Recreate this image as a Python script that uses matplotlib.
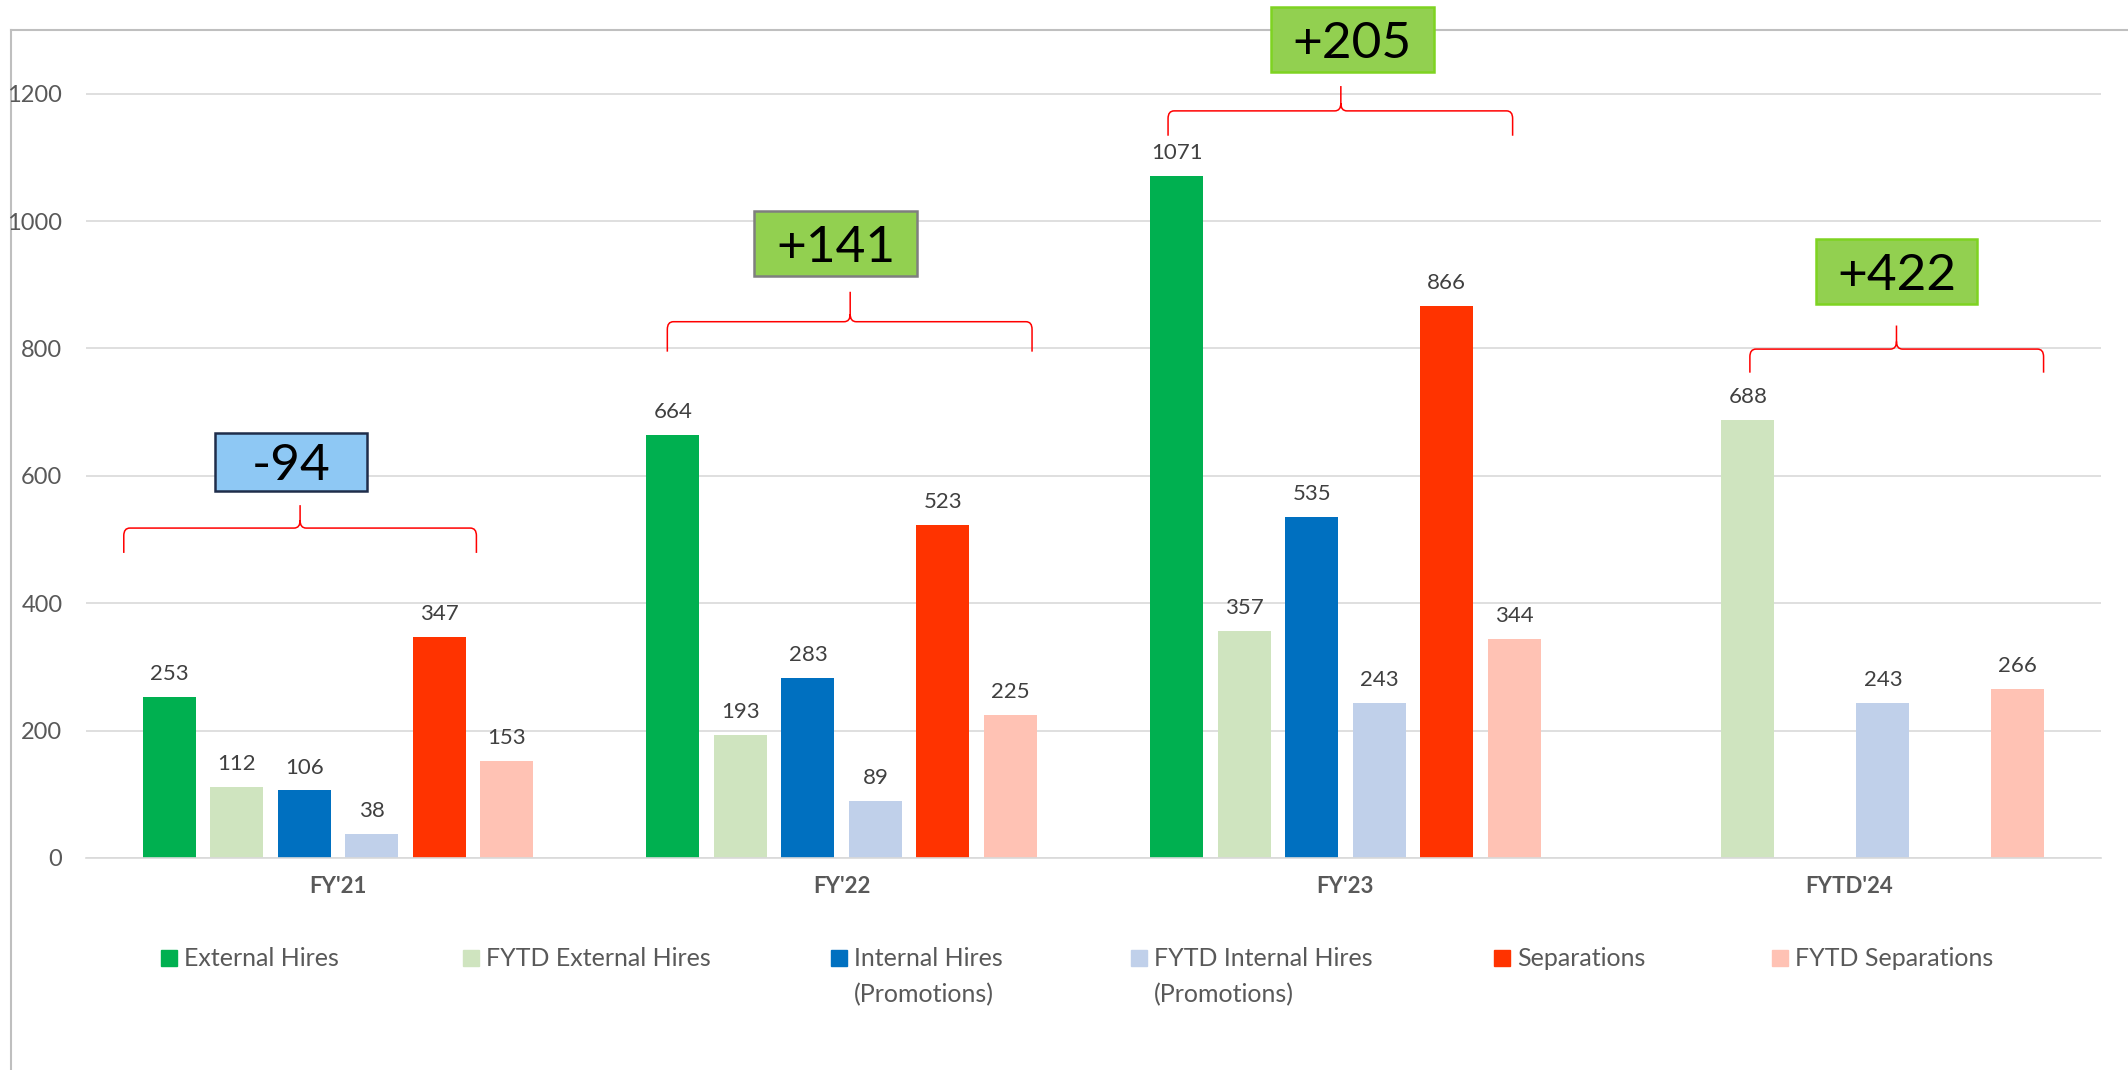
import numpy as np
import matplotlib.pyplot as plt
from matplotlib.patches import Rectangle, PathPatch
from matplotlib.path import Path
from matplotlib.lines import Line2D

plt.rcParams['font.family'] = ['Liberation Sans Narrow', 'Lato', 'DejaVu Sans']

# data
categories = ["FY'21", "FY'22", "FY'23", "FYTD'24"]
series_names = ['External Hires', 'FYTD External Hires', 'Internal Hires\n(Promotions)',
                'FYTD Internal Hires\n(Promotions)', 'Separations', 'FYTD Separations']
external_hires = [253, 664, 1071, None]
fytd_external_hires = [112, 193, 357, 688]
internal_hires = [106, 283, 535, None]
fytd_internal_hires = [38, 89, 243, 243]
separations = [347, 523, 866, None]
fytd_separations = [153, 225, 344, 266]
net_change = ['-94', '+141', '+205', '+422']

series = [external_hires, fytd_external_hires, internal_hires,
          fytd_internal_hires, separations, fytd_separations]
colors = ['#00B050', '#CFE4BF', '#0070C0', '#C0D0EA', '#FF3300', '#FFC2B4']

W, H = 2128, 1070
fig = plt.figure(figsize=(W / 100, H / 100), dpi=100)
ax = fig.add_axes([86 / W, 1 - 858 / H, (2101 - 86) / W, (858 - 30) / H])

pitch = 67.5 / 504
width = 53 / 504
x = np.arange(len(categories))

for i, (vals, col) in enumerate(zip(series, colors)):
    idx = [j for j, v in enumerate(vals) if v is not None]
    hs = [vals[j] for j in idx]
    bars = ax.bar(x[idx] + (i - 2.5) * pitch, hs, width, color=col, zorder=2)
    for b, h in zip(bars, hs):
        ax.annotate(str(h), (b.get_x() + b.get_width() / 2, h), xytext=(0, 12.2),
                    textcoords='offset points', ha='center', va='baseline',
                    fontsize=16, color='#404040')

ax.set_xlim(-0.5, 3.5)
ax.set_ylim(0, 1300)
ax.set_yticks(np.arange(0, 1201, 200))
ax.yaxis.grid(True, color='#D9D9D9', lw=1.2, zorder=0)
ax.set_axisbelow(True)
ax.patch.set_alpha(0)
for s in ['top', 'right', 'left']:
    ax.spines[s].set_visible(False)
ax.spines['bottom'].set_color('#D9D9D9')
ax.spines['bottom'].set_linewidth(1.2)
ax.set_xticks(x, categories, fontweight='bold', fontsize=16, color='#595959')
ax.tick_params(axis='x', length=0, pad=13)
ax.tick_params(axis='y', length=0, pad=17, labelsize=17, labelcolor='#595959')


# curly braces + net change boxes
def brace(ax, x0, x1, xt, yb, yh, ytip, rx=0.012, ry=12):
    M, L, C = Path.MOVETO, Path.LINETO, Path.CURVE3
    verts = [(x0, yb), (x0, yh - ry), (x0, yh), (x0 + rx, yh), (xt - rx, yh), (xt, yh), (xt, yh + ry), (xt, ytip),
             (x1, yb), (x1, yh - ry), (x1, yh), (x1 - rx, yh), (xt + rx, yh), (xt, yh), (xt, yh + ry)]
    codes = [M, L, C, C, L, C, C, L, M, L, C, C, L, C, C]
    ax.add_patch(PathPatch(Path(verts, codes), fill=False, edgecolor='#FF0000', lw=1.1,
                           clip_on=False, zorder=4))


braces = [(-0.425, 0.275, -0.075, 479, 518, 554),
          (0.654, 1.378, 1.017, 795, 842, 889),
          (1.648, 2.332, 1.991, 1134, 1173, 1212),
          (2.803, 3.386, 3.094, 762, 799, 836)]
boxes = [(-0.093, 622, 153, 58), (0.988, 965, 163, 65),
         (2.014, 1285.5, 163, 65), (3.094, 921, 162, 65)]
box_faces = ['#8EC8F4', '#92D050', '#92D050', '#92D050']
box_edges = ['#1F2D4A', '#7F7F7F', '#7ED321', '#7ED321']

for br, (bx, by, bw, bh), txt, fc, ec in zip(braces, boxes, net_change, box_faces, box_edges):
    brace(ax, *br)
    w = bw / 504
    h = bh / 0.6367
    ax.add_patch(Rectangle((bx - w / 2, by - h / 2), w, h, facecolor=fc, edgecolor=ec,
                           lw=1.8, clip_on=False, zorder=5))
    # baseline set half a cap height below the box centre
    ax.annotate(txt, (bx, by), xytext=(0, -13.3), textcoords='offset points',
                ha='center', va='baseline', fontsize=37, color='black',
                zorder=6, annotation_clip=False)

# legend, laid out like the Excel one
legend_x = [161, 463, 831, 1131, 1494, 1772]
for name, col, lx in zip(series_names, colors, legend_x):
    fig.patches.append(Rectangle((lx / W, 1 - 966 / H), 16 / W, 16 / H,
                                 transform=fig.transFigure, color=col))
    for k, line in enumerate(name.split('\n')):
        fig.text((lx + 23) / W, 1 - (966 + 36 * k) / H, line, fontsize=18,
                 color='#595959', va='baseline', ha='left')

# chart frame (cropped: only top and left visible), kept under the axes
fig.add_artist(Line2D([11 / W, 11 / W], [0, 1 - 30 / H], transform=fig.transFigure,
                      color='#BFBFBF', lw=1.5, zorder=-5))
fig.add_artist(Line2D([11 / W, 1], [1 - 30 / H, 1 - 30 / H], transform=fig.transFigure,
                      color='#BFBFBF', lw=1.5, zorder=-5))

fig.savefig('out.png', dpi=100)
